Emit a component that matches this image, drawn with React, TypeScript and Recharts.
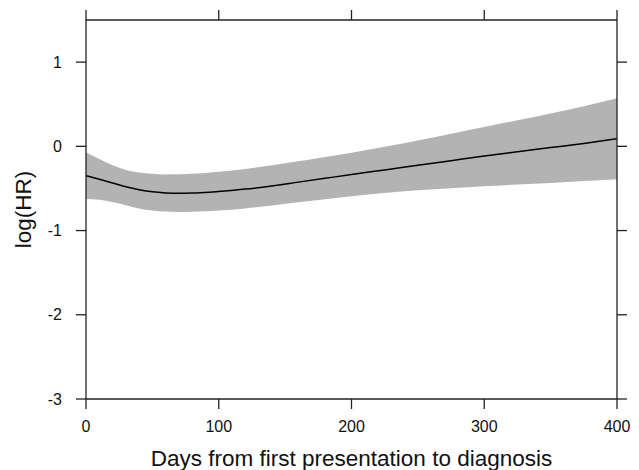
import { ComposedChart, Area, Line, XAxis, YAxis, Label } from 'recharts';

// days since first presentation
const days = [0, 10, 20, 30, 40, 50, 60, 70, 80, 90, 100, 120, 140, 160, 180, 200, 225, 250, 275, 300, 325, 350, 375, 400];
// fitted log hazard ratio
const logHR = [-0.35, -0.39, -0.435, -0.48, -0.515, -0.54, -0.553, -0.558, -0.555, -0.547, -0.537, -0.508, -0.47, -0.425, -0.38, -0.335, -0.28, -0.225, -0.17, -0.115, -0.065, -0.015, 0.035, 0.09];
// confidence band
const upper = [-0.07, -0.15, -0.225, -0.28, -0.31, -0.327, -0.333, -0.332, -0.326, -0.316, -0.303, -0.268, -0.225, -0.178, -0.128, -0.075, -0.005, 0.07, 0.15, 0.23, 0.31, 0.39, 0.475, 0.57];
const lower = [-0.625, -0.635, -0.66, -0.7, -0.737, -0.762, -0.775, -0.78, -0.778, -0.772, -0.763, -0.738, -0.703, -0.665, -0.628, -0.592, -0.553, -0.522, -0.497, -0.474, -0.454, -0.434, -0.413, -0.39];

const xTicks = [0, 100, 200, 300, 400];
const yTicks = [-3, -2, -1, 0, 1];

const data = days.map((d, i) => ({ day: d, hr: logHR[i], band: [lower[i], upper[i]] }));

const font = '"Liberation Sans", Arial, sans-serif';
const axisStroke = '#222';
const tickStyle = { fill: '#111', fontSize: 16, fontFamily: font };
const blank = () => '';

export default function App() {
  return (
    <ComposedChart
      width={631}
      height={462}
      data={data}
      margin={{ top: 0, right: 0, bottom: 0, left: 0 }}
      style={{ fontFamily: font }}
    >
      <XAxis
        dataKey="day"
        type="number"
        domain={[0, 400]}
        ticks={xTicks}
        height={71}
        tickSize={10}
        tickMargin={12}
        tick={tickStyle}
        stroke={axisStroke}
        strokeWidth={1.3}
        allowDataOverflow
      >
        <Label
          content={({ viewBox }: any) => (
            <text
              x={viewBox.x + viewBox.width / 2}
              y={viewBox.y + 67}
              textAnchor="middle"
              fontSize={22.5}
              fontFamily={font}
              fill="#111"
            >
              Days from first presentation to diagnosis
            </text>
          )}
        />
      </XAxis>
      <XAxis
        xAxisId="top"
        orientation="top"
        dataKey="day"
        type="number"
        domain={[0, 400]}
        ticks={xTicks}
        height={12}
        tickSize={10}
        tickFormatter={blank}
        stroke={axisStroke}
        strokeWidth={1.3}
        allowDataOverflow
      />
      <YAxis
        type="number"
        domain={[-3, 1.5]}
        ticks={yTicks}
        width={78}
        tickSize={10}
        tickMargin={14}
        tick={tickStyle}
        stroke={axisStroke}
        strokeWidth={1.3}
        allowDataOverflow
      >
        <Label
          content={({ viewBox }: any) => {
            const cx = 15;
            const cy = viewBox.y + viewBox.height / 2;
            return (
              <text
                x={cx}
                y={cy}
                transform={`rotate(-90 ${cx} ${cy})`}
                textAnchor="middle"
                dominantBaseline="central"
                fontSize={22.5}
                fontFamily={font}
                fill="#111"
              >
                log(HR)
              </text>
            );
          }}
        />
      </YAxis>
      <YAxis
        yAxisId="right"
        orientation="right"
        type="number"
        domain={[-3, 1.5]}
        ticks={yTicks}
        width={22}
        tickSize={10}
        tickFormatter={blank}
        stroke={axisStroke}
        strokeWidth={1.3}
        allowDataOverflow
      />
      <Area
        xAxisId="top"
        yAxisId="right"
        dataKey="band"
        type="monotone"
        stroke="none"
        fill="#b3b3b3"
        fillOpacity={1}
        isAnimationActive={false}
      />
      <Line
        dataKey="hr"
        type="monotone"
        stroke="#000"
        strokeWidth={1.5}
        dot={false}
        isAnimationActive={false}
      />
    </ComposedChart>
  );
}
